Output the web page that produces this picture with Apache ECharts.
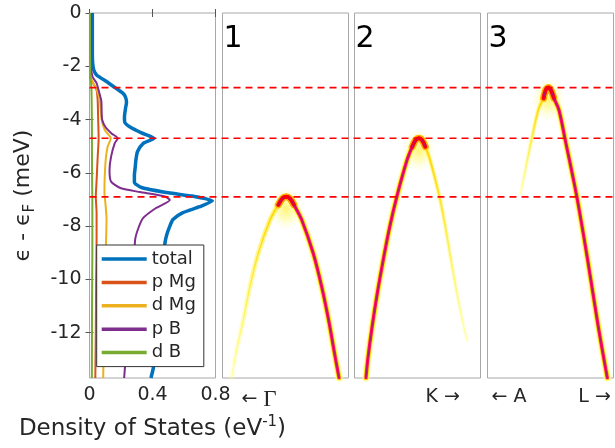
<!DOCTYPE html>
<html><head><meta charset="utf-8">
<script src="https://cdn.jsdelivr.net/npm/echarts@6/dist/echarts.min.js"></script>
<style>html,body{margin:0;padding:0;background:#fff}#c{width:615px;height:448px}</style>
</head><body><div id="c"></div>
<script>
// ---- data ----
const yTicks = [0, -2, -4, -6, -8, -10, -12];
const dosTicks = [0, 0.4, 0.8];
const seriesNames = ['total', 'p Mg', 'd Mg', 'p B', 'd B'];
// [DOS value, energy]
const dosTotal = [[0.018,0],[0.018,-1.5],[0.025,-2.1],[0.045,-2.33],[0.11,-2.58],[0.16,-2.79],[0.21,-3.0],[0.228,-3.15],[0.235,-3.35],[0.228,-3.6],[0.222,-3.9],[0.224,-4.1],[0.255,-4.27],[0.33,-4.5],[0.41,-4.7],[0.34,-4.9],[0.305,-5.2],[0.295,-5.5],[0.29,-5.8],[0.285,-6.1],[0.285,-6.35],[0.33,-6.55],[0.5,-6.75],[0.66,-6.88],[0.78,-7.05],[0.70,-7.27],[0.59,-7.5],[0.53,-7.75],[0.51,-8.0],[0.49,-8.33],[0.48,-8.6],[0.465,-9.3],[0.45,-10.2],[0.44,-11.0],[0.43,-11.8],[0.42,-12.6],[0.405,-13.33],[0.39,-13.7]];
const dosPMg = [[0.003,0],[0.003,-2.4],[0.02,-2.6],[0.045,-2.9],[0.052,-3.3],[0.055,-4.0],[0.058,-4.7],[0.052,-5.4],[0.045,-6.3],[0.04,-6.9],[0.045,-7.5],[0.045,-8.5],[0.042,-10],[0.04,-12],[0.037,-13.7]];
const dosDMg = [[0.005,0],[0.005,-2.3],[0.02,-2.6],[0.04,-2.79],[0.065,-3.26],[0.077,-4.0],[0.097,-4.39],[0.135,-4.7],[0.115,-5.02],[0.103,-5.5],[0.096,-6.27],[0.095,-6.77],[0.102,-7.2],[0.108,-7.7],[0.105,-8.6],[0.1,-9.5],[0.096,-10.5],[0.093,-11.5],[0.09,-12.5],[0.087,-13.7]];
const dosPB = [[0.01,0],[0.01,-2.0],[0.02,-2.4],[0.045,-2.63],[0.06,-2.95],[0.075,-3.3],[0.077,-3.7],[0.08,-4.0],[0.1,-4.27],[0.14,-4.52],[0.18,-4.7],[0.16,-4.89],[0.137,-5.39],[0.127,-5.89],[0.137,-6.33],[0.2,-6.58],[0.32,-6.72],[0.48,-6.89],[0.51,-7.02],[0.42,-7.33],[0.34,-7.7],[0.31,-8.08],[0.29,-8.5],[0.28,-9.5],[0.26,-10.5],[0.245,-11.5],[0.235,-12.5],[0.225,-13.3],[0.22,-13.7]];
const dosDB = [[0.003,0],[0.005,-2.3],[0.012,-2.8],[0.015,-4],[0.016,-6],[0.018,-7],[0.018,-9],[0.016,-11],[0.015,-13.7]];
const fermiLines = [-2.8, -4.7, -6.9];
const panelLabels = ['1', '2', '3'];
const kTickPos = [[0.29], [0.70], [0.17, 0.85]];
const kTickText = [['← Γ'], ['K →'], ['← A', 'L →']];
// [k (fraction of panel), energy]
const band1Main = [[0.443,-7.2],[0.474,-6.97],[0.505,-6.9],[0.536,-6.97],[0.567,-7.2],[0.629,-7.77],[0.72,-9.02],[0.787,-10.27],[0.842,-11.52],[0.889,-12.77],[0.925,-13.7]];
const band1Faint = [[0.073,-13.7],[0.107,-12.77],[0.165,-11.52],[0.218,-10.27],[0.284,-9.02],[0.377,-7.77],[0.443,-7.2]];
const band2Main = [[0.091,-13.7],[0.105,-13.02],[0.14,-11.77],[0.181,-10.52],[0.228,-9.27],[0.28,-8.02],[0.337,-6.87],[0.417,-5.52],[0.458,-5.02],[0.485,-4.77],[0.51,-4.7],[0.536,-4.77],[0.562,-5.02]];
const band2Faint = [[0.562,-5.02],[0.60,-5.52],[0.673,-6.87],[0.721,-8.02],[0.766,-9.27],[0.813,-10.52],[0.867,-11.77],[0.893,-12.27]];
const band3Main = [[0.445,-3.2],[0.463,-2.88],[0.483,-2.8],[0.504,-2.9],[0.527,-3.2],[0.567,-3.64],[0.615,-4.72],[0.708,-6.87],[0.795,-9.27],[0.879,-11.77],[0.951,-13.7]];
const band3Faint = [[0.445,-3.2],[0.403,-3.64],[0.351,-4.72],[0.316,-5.52],[0.263,-6.77]];

// ---- layout ----
const E_MIN = -13.7, E_MAX = 0;
const TOP = 13, H = 365, W = 126;
const panelLeft = [222.5, 354.5, 487.5];
const FONT = 'DejaVu Sans';
const TXT = '#262626';
const FRAME = '#a8a8a8';

const grids = [{left: 89.5, top: TOP, width: W, height: H, show: true, borderColor: FRAME, borderWidth: 1, backgroundColor: '#fff', outerBoundsMode: 'none'}];
panelLeft.forEach(l => grids.push({left: l, top: TOP, width: W, height: H, show: true, borderColor: FRAME, borderWidth: 1, backgroundColor: '#fff', outerBoundsMode: 'none'}));
grids.push({left: 89.5, top: TOP, width: 613.5 - 89.5, height: H, show: false, outerBoundsMode: 'none'});

const tickStyle = {show: true, inside: true, length: 4, lineStyle: {color: '#555', width: 1}};
const xAxes = [
  {type: 'value', gridIndex: 0, min: 0, max: 0.8, interval: 0.4,
   axisLine: {show: false}, splitLine: {show: false}, axisTick: tickStyle,
   axisLabel: {color: TXT, fontFamily: FONT, fontSize: 19, margin: 8, formatter: v => String(dosTicks.find(t => Math.abs(t - v) < 1e-9) ?? v)},
   name: 'Density of States (eV{sup|-1})', nameLocation: 'middle', nameGap: 37,
   nameTextStyle: {color: TXT, fontFamily: FONT, fontSize: 23, rich: {sup: {fontSize: 15, fontFamily: FONT, color: TXT, padding: [0, 0, 13, 0]}}}},
  {type: 'value', gridIndex: 0, min: 0, max: 0.8, interval: 0.4, position: 'top',
   axisLine: {show: false}, splitLine: {show: false}, axisTick: tickStyle, axisLabel: {show: false}}
];
const yAxes = [
  {type: 'value', gridIndex: 0, min: E_MIN, max: E_MAX,
   axisLine: {show: false}, splitLine: {show: false},
   axisTick: Object.assign({}, tickStyle, {customValues: yTicks}),
   axisLabel: {customValues: yTicks, color: TXT, fontFamily: FONT, fontSize: 19, margin: 8},
   name: '{a|ϵ - ϵ}{s|F}{a| (meV)}', nameLocation: 'middle', nameGap: 52, nameRotate: 90,
   nameTextStyle: {rich: {a: {fontSize: 22, fontFamily: FONT, color: TXT}, s: {fontSize: 15, fontFamily: FONT, color: TXT, padding: [13, 0, 0, 0]}}}},
  {type: 'value', gridIndex: 0, min: E_MIN, max: E_MAX, position: 'right',
   axisLine: {show: false}, splitLine: {show: false},
   axisTick: Object.assign({}, tickStyle, {customValues: yTicks}), axisLabel: {show: false}}
];
panelLeft.forEach((l, i) => {
  xAxes.push({type: 'value', gridIndex: i + 1, min: 0, max: 1,
    axisLine: {show: false}, splitLine: {show: false}, axisTick: {show: false},
    axisLabel: {customValues: kTickPos[i], color: TXT, fontFamily: FONT, fontSize: 19, margin: 10,
      formatter: v => {
        const j = kTickPos[i].findIndex(p => Math.abs(p - v) < 1e-6);
        const s = j >= 0 ? kTickText[i][j] : '';
        return s.replace('Γ', '{g|Γ}');
      },
      rich: {g: {fontFamily: 'Liberation Serif', fontSize: 23, color: TXT}}}});
  yAxes.push({type: 'value', gridIndex: i + 1, min: E_MIN, max: E_MAX, show: false});
});
xAxes.push({type: 'value', gridIndex: 4, min: 0, max: 1, show: false});
yAxes.push({type: 'value', gridIndex: 4, min: E_MIN, max: E_MAX, show: false});

// ---- series ----
const dosColors = ['#0072BD', '#D95319', '#EDB120', '#7E2F8E', '#77AC30'];
const dosData = [dosTotal, dosPMg, dosDMg, dosPB, dosDB];
const series = [];
dosData.forEach((d, i) => {
  series.push({type: 'line', name: seriesNames[i], xAxisIndex: 0, yAxisIndex: 0, data: d,
    showSymbol: false, symbol: 'none', smooth: 0.2, z: i === 0 ? 5 : 6,
    lineStyle: {color: dosColors[i], width: i === 0 ? 3.5 : 2}, itemStyle: {color: dosColors[i]},
    silent: true, animation: false});
});

function ln(ax, data, color, width, z) {
  series.push({type: 'line', xAxisIndex: ax, yAxisIndex: ax, data: data, showSymbol: false, symbol: 'none',
    smooth: 0.3, z: z, silent: true, animation: false,
    lineStyle: {color: color, width: width, cap: 'round', join: 'round'}});
}
const fade = (c0, c1) => ({type: 'linear', x: 0, y: 0, x2: 0, y2: 1, colorStops: [{offset: 0, color: c0}, {offset: 1, color: c1}]});
const bands = [[band1Main, band1Faint], [band2Main, band2Faint], [band3Main, band3Faint]];
bands.forEach(([main, faint], i) => {
  const ax = i + 2;
  const top = Math.max(...main.map(p => p[1]));
  const peak = main.filter(p => p[1] === top);
  const near = main.filter(p => p[1] >= top - 0.45);
  // soft glow around the band top
  series.push({type: 'scatter', xAxisIndex: ax, yAxisIndex: ax, data: peak, symbol: 'circle',
    symbolSize: [34, 44], symbolOffset: [0, 12], z: 1, silent: true, animation: false,
    itemStyle: {color: {type: 'radial', x: 0.5, y: 0.5, r: 0.5, colorStops: [
      {offset: 0, color: 'rgba(255,240,60,0.9)'}, {offset: 0.5, color: 'rgba(255,250,120,0.55)'}, {offset: 1, color: 'rgba(255,255,200,0)'}]}}});
  ln(ax, faint, fade('rgba(255,240,80,0.85)', 'rgba(255,255,150,0.2)'), i === 0 ? 5 : 4, 2);
  ln(ax, faint, fade('#ffd000', 'rgba(255,255,60,0.3)'), 1.6, 3);
  ln(ax, main, 'rgba(255,255,140,0.6)', 7.5, 2);
  ln(ax, main, '#ffe800', 5, 3);
  ln(ax, near, '#ffb000', 7, 3);
  ln(ax, main, '#ff1060', 3.2, 4);
  ln(ax, near, '#ff0010', 4, 4);
  ln(ax, main, '#a0148a', 1, 5);
});

fermiLines.forEach(e => {
  series.push({type: 'line', xAxisIndex: 5, yAxisIndex: 5, data: [[0, e], [1, e]], showSymbol: false, symbol: 'none',
    z: 20, silent: true, animation: false, lineStyle: {color: '#ff0000', width: 1.6, type: [7, 5]}});
});

const graphics = panelLabels.map((t, i) => ({type: 'text', left: panelLeft[i] + 1, top: 24, z: 30,
  style: {text: t, fontFamily: FONT, fontSize: 30, fill: '#000'}}));

const chart = echarts.init(document.getElementById('c'), null, {renderer: 'canvas'});
chart.setOption({
  animation: false,
  backgroundColor: '#fff',
  grid: grids, xAxis: xAxes, yAxis: yAxes, series: series, graphic: graphics,
  legend: {data: seriesNames, icon: 'rect', orient: 'vertical', left: 96.7, top: 245, itemWidth: 45, itemHeight: 3.5, itemGap: 3.4,
    padding: [4, 8, 4, 5], backgroundColor: '#fff', borderColor: '#333', borderWidth: 1, borderRadius: 0,
    selectedMode: false, z: 25,
    textStyle: {color: TXT, fontFamily: FONT, fontSize: 18, lineHeight: 20}}
});
</script></body></html>
